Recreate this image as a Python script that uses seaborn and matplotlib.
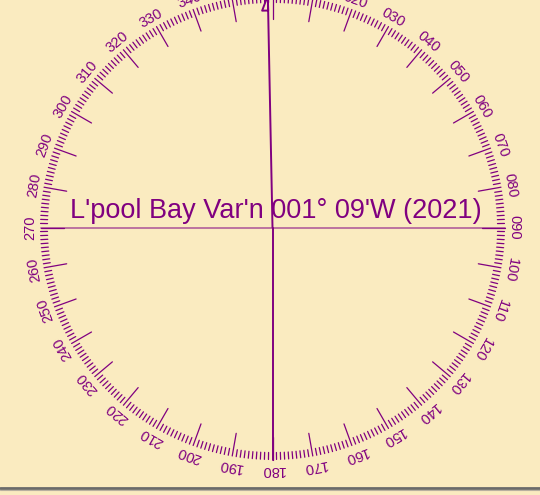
import numpy as np
import pandas as pd
import matplotlib.pyplot as plt
import seaborn as sns

# compass card data
bearings = list(range(0, 360))
major_bearings = list(range(0, 360, 10))
major_labels = [f"{b:03d}" for b in major_bearings]
variation_deg = -(1 + 9 / 60)  # 001° 09'W
title_text = "L'pool Bay Var'n 001° 09'W (2021)"

purple = "#800080"
bg = "#FAEBC0"

# geometry in pixel units
cx, cy = 272.5, 227.5
r_out = 232
minor_len = 7
major_len = 23
r_lab = 242


def polar(b, r):
    t = np.deg2rad(b)
    return cx + r * np.sin(t), cy - r * np.cos(t)


def offset_pt(b, along, across):
    x, y = polar(b, along)
    t = np.deg2rad(b + 90)
    return x + across * np.sin(t), y - across * np.cos(t)


# tick segments
rows = []
for b in bearings:
    length = major_len if b % 10 == 0 else minor_len
    x0, y0 = polar(b, r_out)
    x1, y1 = polar(b, r_out - length)
    rows.append({"seg": b, "x": x0, "y": y0})
    rows.append({"seg": b, "x": x1, "y": y1})
df_ticks = pd.DataFrame(rows)

# meridian lines: true south half, magnetic north half with half arrowhead
mx, my = polar(variation_deg, r_out)
ax1, ay1 = offset_pt(variation_deg, r_out - 15, -6)
ax2, ay2 = offset_pt(variation_deg, r_out - 15, 0)
sx, sy = polar(180, r_out)
df_ns = pd.DataFrame({
    "seg": [0, 0, 1, 1, 1, 1, 1],
    "x": [sx, cx, cx, mx, ax1, ax2, mx],
    "y": [sy, cy, cy, my, ay1, ay2, my],
})
wx, wy = polar(270, r_out)
ex, ey = polar(90, r_out)
df_ew = pd.DataFrame({"seg": [0, 0], "x": [wx, ex], "y": [wy, ey]})

sns.set_style("white")
plt.rcParams["font.family"] = ["Liberation Sans", "DejaVu Sans"]

fig = plt.figure(figsize=(5.4, 4.95), dpi=100, facecolor=bg)
ax = fig.add_axes([0, 0, 1, 1])
ax.set_facecolor(bg)

sns.lineplot(data=df_ew, x="x", y="y", units="seg", estimator=None, sort=False,
             color=purple, alpha=0.55, lw=1.3, ax=ax)
sns.lineplot(data=df_ticks, x="x", y="y", units="seg", estimator=None, sort=False,
             color=purple, lw=0.9, ax=ax)
sns.lineplot(data=df_ns, x="x", y="y", units="seg", estimator=None, sort=False,
             color=purple, lw=1.4, ax=ax)

for b, lab in zip(major_bearings, major_labels):
    x, y = polar(b, r_lab)
    ax.text(x, y, lab, rotation=-b, rotation_mode="anchor", ha="center",
            va="center", fontsize=10.5, color=purple)

ax.text(276, 218, title_text, fontsize=19.5, ha="center", va="baseline", color=purple)

ax.axhline(487.5, color="#6a6a6a", lw=2)
ax.axhline(489.5, color="#b8b0a0", lw=0.8)

ax.set_xlim(0, 540)
ax.set_ylim(495, 0)
ax.set_aspect("auto")
ax.axis("off")

fig.savefig("out.png", dpi=100, facecolor=bg)
